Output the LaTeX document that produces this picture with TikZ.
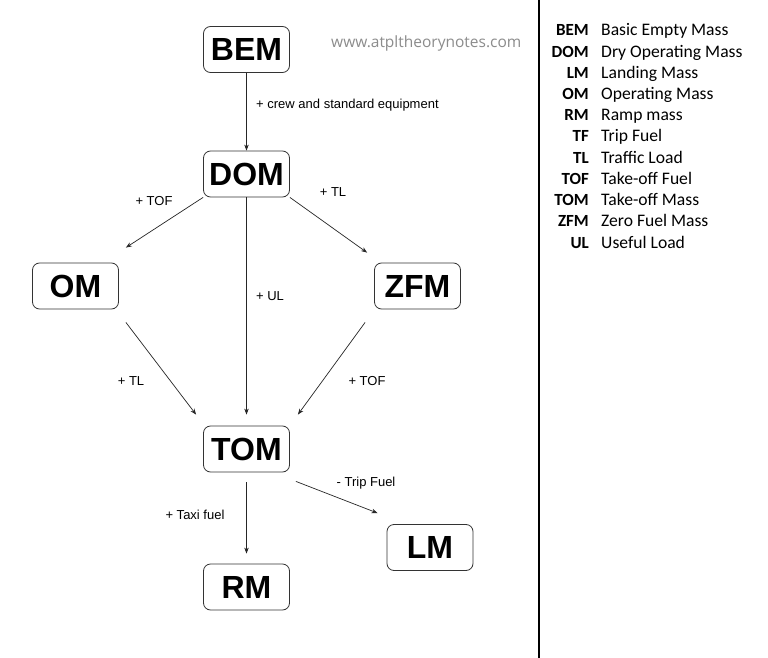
\documentclass[tikz,border=0pt]{standalone}
\usepackage{fontspec}
\setmainfont{Liberation Sans}
\newfontfamily\legendfont{Carlito}
\newfontfamily\wmfont{Open Sans}
\usetikzlibrary{calc,arrows.meta}
\begin{document}
\begin{tikzpicture}[x=1pt,y=-1pt,
  massbox/.style={draw=black!80,line width=0.8pt,rounded corners=7pt,fill=white,
    minimum width=86pt,minimum height=46pt,inner sep=0pt,
    font=\fontsize{32}{33}\selectfont\bfseries},
  arr/.style={draw=black!85,line width=0.7pt,-{Stealth[length=6pt,width=4.5pt]}},
  lbl/.style={font=\fontsize{13}{14}\selectfont,inner sep=0pt},
  abbr/.style={anchor=base east,inner sep=0pt,font=\legendfont\fontsize{17}{18}\selectfont\bfseries},
  desc/.style={anchor=base west,inner sep=0pt,font=\legendfont\fontsize{17.6}{18}\selectfont}]
\useasboundingbox[fill=white] (0,0) rectangle (768,658);
% divider
\coordinate (ltop) at (539,0);
\coordinate (lbot) at (539,658);
\draw[line width=2.4pt,black] (ltop) -- (lbot);
% watermark
\node[font=\wmfont\fontsize{15.5}{16}\selectfont,text=black!45,anchor=west,inner sep=0pt] (wm) at (331,43) {www.atpltheorynotes.com};
% nodes
\node[massbox] (BEM) at (246.5,49.5) {BEM};
\node[massbox] (DOM) at (246.5,174) {DOM};
\node[massbox] (OM)  at (75.5,286) {OM};
\node[massbox] (ZFM) at (417.5,286) {ZFM};
\node[massbox] (TOM) at (246.5,449) {TOM};
\node[massbox] (RM)  at (246.5,587) {RM};
\node[massbox] (LM)  at (430,547.5) {LM};
% connectors
\draw[arr] (BEM) -- (DOM);
\draw[arr] (DOM.south west) -- ($(OM.north east)+(7,-15)$);
\draw[arr] (DOM.south east) -- ($(ZFM.north west)+(-7,-10)$);
\draw[arr] (DOM) -- ($(TOM.north)+(0,-11)$);
\draw[arr] ($(OM.south east)+(7,13)$) -- ($(TOM.north west)+(-7,-11)$);
\draw[arr] ($(ZFM.south west)+(-9,13)$) -- ($(TOM.north east)+(8,-11)$);
\draw[arr] ($(TOM.south)+(0,10)$) -- ($(RM.north)+(0,-10)$);
\draw[arr] ($(TOM.south east)+(6,9)$) -- ($(LM.north west)+(-9,-11)$);
% labels
\node[lbl,anchor=west] (l1) at (256,105) {+ crew and standard equipment};
\node[lbl] (l2) at (154,201) {+ TOF};
\node[lbl] (l3) at (333,192) {+ TL};
\node[lbl] (l4) at (270,296) {+ UL};
\node[lbl] (l5) at (131,381) {+ TL};
\node[lbl] (l6) at (367,381) {+ TOF};
\node[lbl] (l7) at (195,515) {+ Taxi fuel};
\node[lbl] (l8) at (366,483) {- Trip Fuel};
% legend
\foreach \i/\a/\d in {0/BEM/Basic Empty Mass,1/DOM/Dry Operating Mass,2/LM/Landing Mass,
  3/OM/Operating Mass,4/RM/Ramp mass,5/TF/Trip Fuel,6/TL/Traffic Load,
  7/TOF/Take-off Fuel,8/TOM/Take-off Mass,9/ZFM/Zero Fuel Mass,10/UL/Useful Load}{
  \node[abbr] (ab\i) at (589,36+21.2*\i) {\a};
  \node[desc] (de\i) at (601,36+21.2*\i) {\d};
}
\end{tikzpicture}
\end{document}
